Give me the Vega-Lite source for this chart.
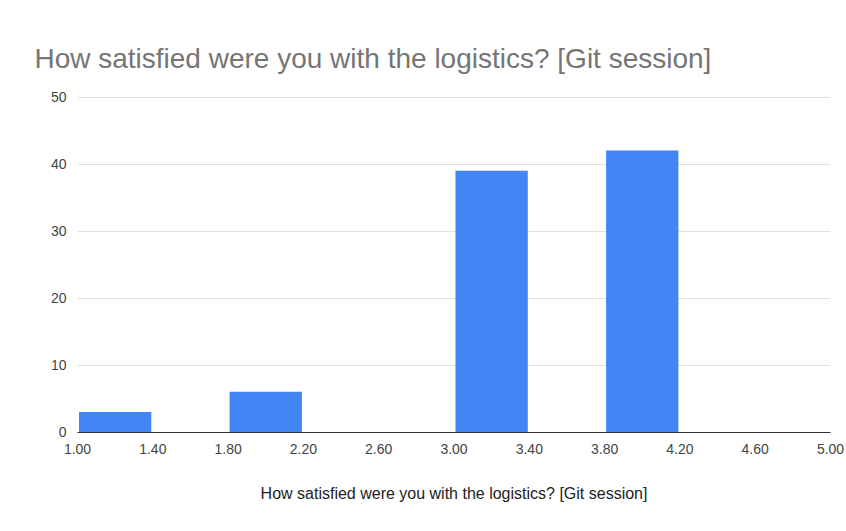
{
  "$schema": "https://vega.github.io/schema/vega-lite/v6.json",
  "width": 753,
  "height": 335,
  "autosize": "none",
  "padding": {"left": 77, "top": 97, "right": 16, "bottom": 99},
  "background": "white",
  "title": {
    "text": "How satisfied were you with the logistics? [Git session]",
    "anchor": "start",
    "dx": -16,
    "dy": 10,
    "offset": 4,
    "baseline": "alphabetic",
    "font": "Liberation Sans",
    "fontSize": 28,
    "fontWeight": "normal",
    "color": "#757575"
  },
  "data": {
    "values": [
      {"bin_start": 1.0, "bin_end": 1.4, "count": 3},
      {"bin_start": 1.8, "bin_end": 2.2, "count": 6},
      {"bin_start": 3.0, "bin_end": 3.4, "count": 39},
      {"bin_start": 3.8, "bin_end": 4.2, "count": 42}
    ]
  },
  "mark": {"type": "bar", "color": "#4285f4", "binSpacing": 3},
  "encoding": {
    "x": {
      "field": "bin_start",
      "type": "quantitative",
      "bin": {"binned": true, "step": 0.4},
      "scale": {"domain": [1, 5], "nice": false, "zero": false},
      "title": "How satisfied were you with the logistics? [Git session]",
      "axis": {
        "values": [1, 1.4, 1.8, 2.2, 2.6, 3.0, 3.4, 3.8, 4.2, 4.6, 5.0],
        "format": ".2f",
        "grid": false,
        "ticks": false,
        "domainColor": "#333333",
        "domainWidth": 1,
        "labelFont": "Liberation Sans",
        "labelFontSize": 14,
        "labelColor": "#444444",
        "labelPadding": 10,
        "labelFlush": false,
        "titleFont": "Liberation Sans",
        "titleFontSize": 16,
        "titleFontWeight": "normal",
        "titleColor": "#222222",
        "titlePadding": 29
      }
    },
    "x2": {"field": "bin_end"},
    "y": {
      "field": "count",
      "type": "quantitative",
      "scale": {"domain": [0, 50], "nice": false},
      "title": null,
      "axis": {
        "values": [0, 10, 20, 30, 40, 50],
        "domain": false,
        "ticks": false,
        "gridColor": "#e0e0e0",
        "labelFont": "Liberation Sans",
        "labelFontSize": 14,
        "labelColor": "#444444",
        "labelPadding": 11
      }
    }
  },
  "config": {"view": {"stroke": null}}
}
